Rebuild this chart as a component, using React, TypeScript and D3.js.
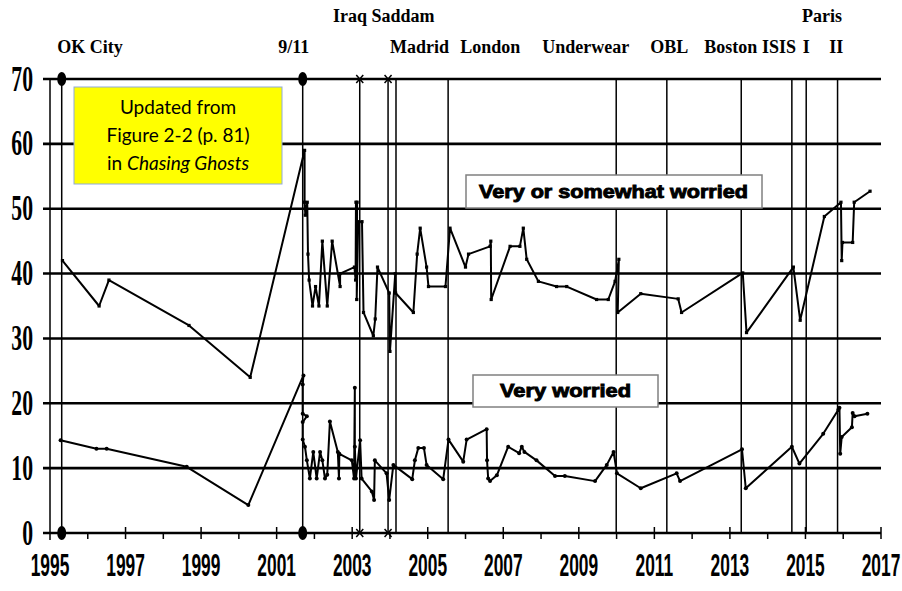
import React from 'react';
import * as d3 from 'd3';

// ---------- DATA ----------
const yearTicks = d3.range(1995, 2018);
const yearLabels = [1995, 1997, 1999, 2001, 2003, 2005, 2007, 2009, 2011, 2013, 2015, 2017];
const valueTicks = [0, 10, 20, 30, 40, 50, 60, 70];

const eventNames = ['OK City', '9/11', 'Iraq', 'Saddam', 'Madrid', 'London', 'Underwear', 'OBL', 'Boston', 'ISIS', 'Paris I', 'Paris II'];
const eventYears = [1995.31, 2001.69, 2003.2, 2003.95, 2004.16, 2005.54, 2009.99, 2011.33, 2013.3, 2014.64, 2015.02, 2015.85];
const eventMarkers = ['dot', 'dot', 'cross', 'cross', 'none', 'none', 'none', 'none', 'none', 'none', 'none', 'none'];

// label text, anchor (year of left edge), row (0 = upper, 1 = lower)
const labelTexts = ['Iraq Saddam', 'Paris', 'OK City', '9/11', 'Madrid', 'London', 'Underwear', 'OBL', 'Boston', 'ISIS', 'I', 'II'];
const labelYears = [2002.49, 2014.91, 1995.19, 2001.04, 2004.0, 2005.86, 2008.03, 2010.89, 2012.32, 2013.85, 2014.93, 2015.63];
const labelRows = [0, 0, 1, 1, 1, 1, 1, 1, 1, 1, 1, 1];

// "Very or somewhat worried"
const someYears = [1995.33, 1996.3, 1996.56, 1998.68, 2000.3, 2001.74, 2001.74, 2001.76, 2001.81, 2001.83, 2001.86, 2001.95, 2002.03, 2002.12, 2002.21, 2002.34, 2002.47, 2002.68, 2002.68, 2003.06, 2003.09, 2003.1, 2003.13, 2003.12, 2003.16, 2003.26, 2003.3, 2003.56, 2003.61, 2003.67, 2003.98, 2004.0, 2004.14, 2004.15, 2004.62, 2004.72, 2004.8, 2004.97, 2005.02, 2005.47, 2005.59, 2006.0, 2006.08, 2006.65, 2006.67, 2006.68, 2007.18, 2007.44, 2007.53, 2007.62, 2007.93, 2008.41, 2008.68, 2009.47, 2009.78, 2009.96, 2010.06, 2010.03, 2010.64, 2011.63, 2011.72, 2013.34, 2013.44, 2014.68, 2014.86, 2015.5, 2015.94, 2015.96, 2015.98, 2016.25, 2016.29, 2016.71];
const someValues = [42, 35, 39, 32, 24, 59, 51, 49, 51, 43, 39, 35, 38, 35, 45, 35, 45, 38, 40, 41, 39, 51, 51, 36, 48, 48, 34, 30.4, 33, 41, 37, 28, 40, 37, 34, 43, 47, 41, 38, 38, 47, 41, 43, 44.2, 45, 36, 44.2, 44.2, 47, 42.2, 38.8, 38, 38, 36, 36, 38.8, 42.2, 34, 36.9, 36.1, 34, 40.1, 30.9, 41, 32.8, 48.8, 51, 42, 44.8, 44.8, 51, 52.7];

// "Very worried"
const veryYears = [1995.28, 1996.23, 1996.5, 1998.62, 2000.25, 2001.71, 2001.69, 2001.69, 2001.8, 2001.69, 2001.69, 2001.75, 2001.8, 2001.88, 2001.97, 2002.06, 2002.15, 2002.21, 2002.28, 2002.34, 2002.41, 2002.62, 2002.65, 2002.66, 2002.99, 2003.05, 2003.07, 2003.07, 2003.1, 2003.21, 2003.25, 2003.52, 2003.58, 2003.6, 2003.91, 2003.98, 2004.09, 2004.59, 2004.66, 2004.75, 2004.9, 2004.97, 2005.41, 2005.55, 2005.94, 2006.03, 2006.56, 2006.57, 2006.6, 2006.65, 2006.83, 2007.13, 2007.42, 2007.49, 2007.56, 2007.88, 2008.37, 2008.63, 2009.43, 2009.74, 2009.92, 2010.01, 2010.64, 2011.59, 2011.68, 2013.32, 2013.42, 2014.64, 2014.84, 2015.47, 2015.87, 2015.9, 2015.92, 2015.96, 2016.23, 2016.25, 2016.3, 2016.64];
const veryValues = [14.3, 13, 13, 10.2, 4.3, 24.3, 22.9, 18.4, 18, 17.1, 14.4, 13.3, 11.2, 8.4, 12.5, 8.4, 12.5, 11.2, 8.4, 9, 17.2, 12.5, 8.4, 12.2, 11.2, 8.4, 22.4, 13.3, 8.4, 14.3, 8.4, 6.4, 5.1, 11.2, 9.2, 5.1, 10.5, 8.3, 11.2, 13.1, 13.1, 10.5, 8.3, 14.4, 11, 14.4, 16, 11.2, 8.4, 8, 8.9, 13.3, 12.3, 13.3, 12.5, 11.2, 8.8, 8.8, 8, 10.5, 12.5, 9.2, 6.9, 9.2, 8, 12.9, 6.9, 13.3, 10.7, 15.3, 19, 19.3, 12.2, 14.8, 16.3, 18.5, 18, 18.4];

// ---------- CHART ----------
const W = 902;
const H = 591;

export default function App() {
  const x = d3.scaleLinear().domain([1995, 2017]).range([50, 881]);
  const y = d3.scaleLinear().domain([0, 70]).range([533, 79]);
  const line = d3
    .line<[number, number]>()
    .x((d) => x(d[0]))
    .y((d) => y(d[1]));

  const some: [number, number][] = someYears.map((t, i) => [t, someValues[i]]);
  const very: [number, number][] = veryYears.map((t, i) => [t, veryValues[i]]);

  const yTop = y(70);
  const yBot = y(0);

  const sansBold = "'Liberation Sans', Arial, sans-serif";
  const serif = "'Liberation Serif', 'Times New Roman', serif";

  return (
    <svg width={W} height={H} style={{ position: 'absolute', left: 0, top: 0, background: '#fff' }}>
      <rect x={0} y={0} width={W} height={H} fill="#fff" />

      {/* horizontal gridlines */}
      {valueTicks.map((v) => (
        <line key={'g' + v} x1={43} x2={x(2017)} y1={y(v)} y2={y(v)} stroke="#000" strokeWidth={2.6} />
      ))}

      {/* y axis */}
      <line x1={x(1995)} x2={x(1995)} y1={yTop} y2={yBot + 7} stroke="#000" strokeWidth={1.5} />

      {/* x ticks */}
      {yearTicks.slice(1).map((t) => (
        <line
          key={'t' + t}
          x1={x(t)}
          x2={x(t)}
          y1={t % 2 === 1 ? yBot - 6 : yBot}
          y2={yBot + 6}
          stroke="#000"
          strokeWidth={1.5}
        />
      ))}

      {/* event lines */}
      {eventYears.map((t, i) => (
        <line key={'e' + i} x1={x(t)} x2={x(t)} y1={yTop} y2={yBot} stroke="#000" strokeWidth={1.5} />
      ))}

      {/* event markers */}
      {eventYears.map((t, i) => {
        const cx = x(t);
        if (eventMarkers[i] === 'dot') {
          return (
            <g key={'m' + i}>
              <ellipse cx={cx} cy={yTop} rx={4.5} ry={7} fill="#000" />
              <ellipse cx={cx} cy={yBot} rx={4.5} ry={7} fill="#000" />
            </g>
          );
        }
        if (eventMarkers[i] === 'cross') {
          return (
            <g key={'m' + i} stroke="#000" strokeWidth={1.5}>
              {[yTop, yBot].map((cy) => (
                <g key={cy}>
                  <line x1={cx - 3.5} x2={cx + 3.5} y1={cy - 4} y2={cy + 4} />
                  <line x1={cx - 3.5} x2={cx + 3.5} y1={cy + 4} y2={cy - 4} />
                </g>
              ))}
            </g>
          );
        }
        return null;
      })}

      {/* yellow note */}
      <rect x={74} y={87} width={208} height={97} fill="#FFFF00" stroke="#8FAADC" strokeWidth={1} />
      <g fontFamily="Lato, 'Open Sans', sans-serif" fontSize={19} fill="#000" textAnchor="middle">
        <text x={178} y={114}>Updated from</text>
        <text x={178} y={142}>Figure 2-2 (p. 81)</text>
        <text x={178} y={170}>
          in <tspan fontStyle="italic">Chasing Ghosts</tspan>
        </text>
      </g>

      {/* series label boxes */}
      <rect x={466} y={175} width={296} height={33} fill="#fff" stroke="#808080" strokeWidth={1.5} />
      <text
        x={613.5}
        y={198}
        textAnchor="middle"
        fontFamily={sansBold}
        fontWeight="bold"
        fontSize={18}
        stroke="#000"
        strokeWidth={0.9}
        textLength={269}
        lengthAdjust="spacingAndGlyphs"
      >
        Very or somewhat worried
      </text>
      <rect x={473} y={375} width={185} height={32} fill="#fff" stroke="#808080" strokeWidth={1.5} />
      <text
        x={565.5}
        y={397}
        textAnchor="middle"
        fontFamily={sansBold}
        fontWeight="bold"
        fontSize={18}
        stroke="#000"
        strokeWidth={0.9}
        textLength={131}
        lengthAdjust="spacingAndGlyphs"
      >
        Very worried
      </text>

      {/* series lines */}
      <path d={line(some) || ''} fill="none" stroke="#000" strokeWidth={2} strokeLinejoin="round" />
      <path d={line(very) || ''} fill="none" stroke="#000" strokeWidth={2} strokeLinejoin="round" />
      {some.map((d, i) => (
        <rect key={'sp' + i} x={x(d[0]) - 1.6} y={y(d[1]) - 1.6} width={3.2} height={3.2} fill="#000" />
      ))}
      {very.map((d, i) => (
        <circle key={'vp' + i} cx={x(d[0])} cy={y(d[1])} r={2} fill="#000" />
      ))}

      {/* y tick labels */}
      {valueTicks.map((v) => (
        <text
          key={'yl' + v}
          transform={`translate(33, ${y(v) + 11.5}) scale(0.62, 1)`}
          textAnchor="end"
          fontFamily={serif}
          fontWeight="bold"
          fontSize={35}
          fill="#000"
        >
          {v}
        </text>
      ))}

      {/* x tick labels */}
      {yearLabels.map((t) => (
        <text
          key={'xl' + t}
          transform={`translate(${x(t)}, 576) scale(0.56, 1)`}
          textAnchor="middle"
          fontFamily={sansBold}
          fontWeight="bold"
          fontSize={31}
          fill="#000"
        >
          {t}
        </text>
      ))}

      {/* event labels */}
      {labelTexts.map((s, i) => (
        <text
          key={'el' + i}
          x={x(labelYears[i])}
          y={labelRows[i] === 0 ? 22 : 53}
          fontFamily={serif}
          fontWeight="bold"
          fontSize={18}
          fill="#000"
        >
          {s}
        </text>
      ))}
    </svg>
  );
}
